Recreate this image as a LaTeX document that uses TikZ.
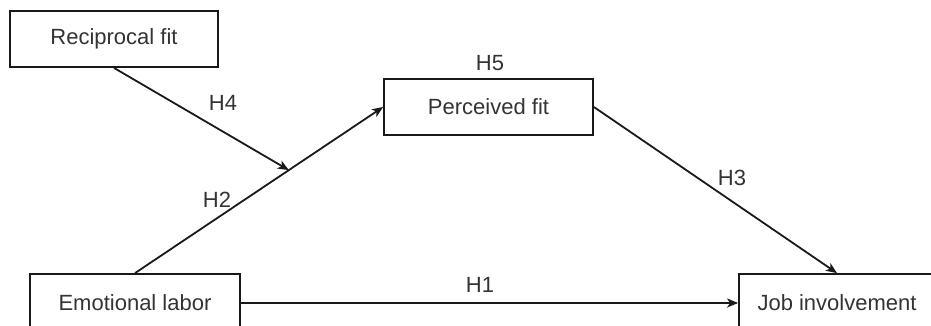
\documentclass[tikz,border=0pt]{standalone}
\usepackage{fontspec}
\setmainfont{Liberation Sans}
\usetikzlibrary{arrows.meta,calc}
\begin{document}
\begin{tikzpicture}[x=1pt,y=-1pt,line width=1.8pt,draw=black!90,
        box/.style={draw,minimum height=56pt,inner sep=0pt,text=black!80,font=\fontsize{22}{26}\selectfont},
        hyp/.style={text=black!80,font=\fontsize{22}{26}\selectfont},
        >={Stealth[length=11pt,width=9pt,inset=3pt]}]
    \clip (0,0) rectangle (931,325);
    \node[box,minimum width=208pt] (rec) at (114,39) {Reciprocal fit};
    \node[box,minimum width=209pt] (pf) at (488.5,107) {Perceived fit};
    \node[box,minimum width=210pt,minimum height=58pt] (el) at (135,303) {Emotional labor};
    \node[box,minimum width=196pt,minimum height=58pt] (ji) at (837,303) {Job involvement};
    \coordinate (mod) at ($(el.north)!0.62!(pf.west)$);
    \draw[->] (el.north) -- (pf.west);
    \draw[->] (rec.south) -- (mod);
    \draw[->] (pf.east) -- (ji.north);
    \draw[->] (el.east) -- (ji.west);
    \foreach \h/\x/\y in {H1/480/285,H2/217/200,H3/732/178,H4/223/103,H5/490/63}
    {
        \node[hyp] (lbl\h) at (\x,\y) {\h};
    }
\end{tikzpicture}
\end{document}
